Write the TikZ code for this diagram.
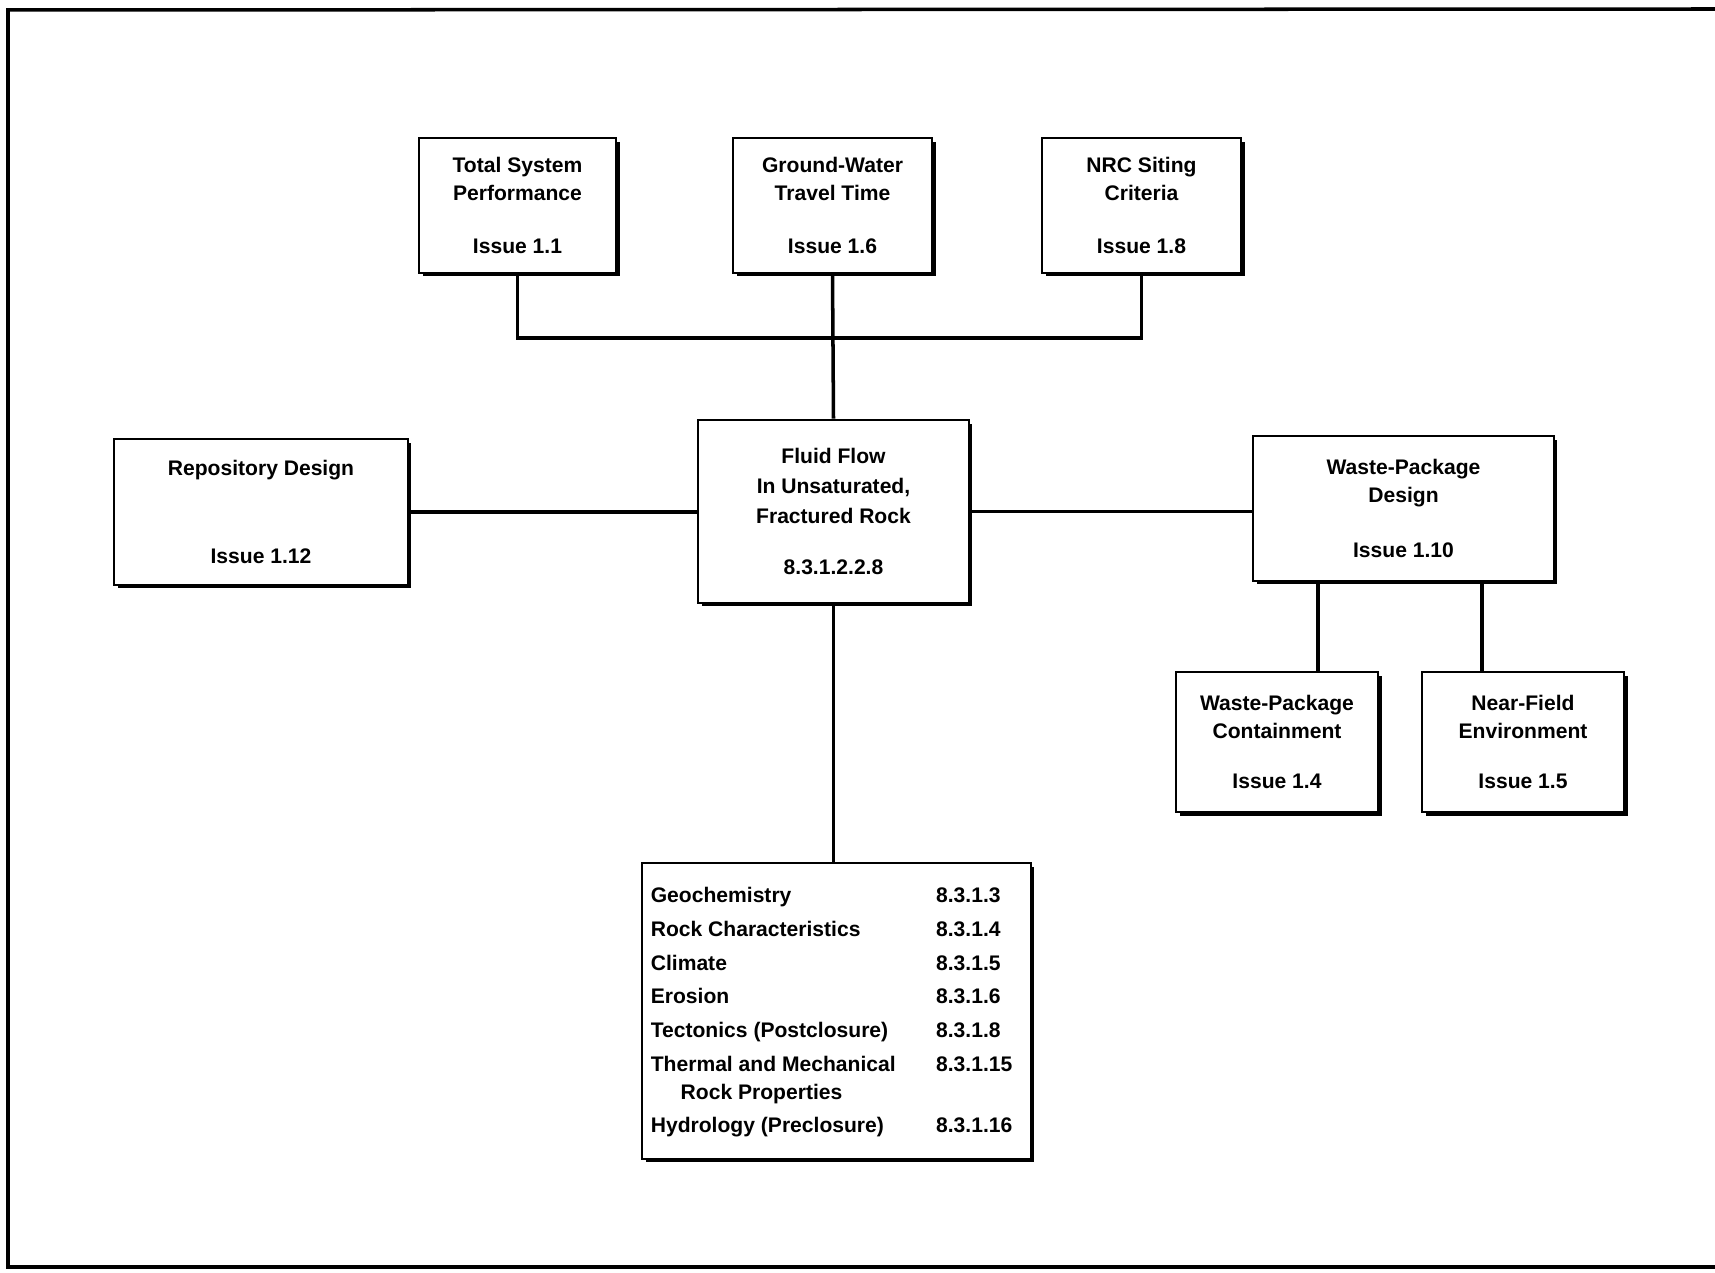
\documentclass[tikz,border=0pt]{standalone}
\usepackage{fontspec}
\setmainfont{Liberation Sans}
\usetikzlibrary{shadows,calc}

\begin{document}
\begin{tikzpicture}[x=0.02cm,y=-0.02cm,
  issuebox/.style={draw,line width=1.6pt,fill=white,align=center,inner sep=0pt,
    font=\fontsize{12}{16}\selectfont\bfseries,
    drop shadow={shadow xshift=2pt,shadow yshift=-2pt,fill=black,opacity=1}},
  link/.style={line width=2pt}]
\useasboundingbox (0,0) rectangle (1715,1273);
\draw[line width=2pt] (1715,9) -- (8,10) -- (8,1267) -- (1715,1267);

\node[issuebox,minimum width=3.94cm,minimum height=2.70cm] (tsp) at (517.5,205.5)
  {Total System\\Performance\\[14pt]Issue 1.1};
\node[issuebox,minimum width=3.98cm,minimum height=2.70cm] (gwt) at (832.5,205.5)
  {Ground-Water\\Travel Time\\[14pt]Issue 1.6};
\node[issuebox,minimum width=3.98cm,minimum height=2.70cm] (nrc) at (1141.5,205.5)
  {NRC Siting\\Criteria\\[14pt]Issue 1.8};
\node[issuebox,minimum width=5.42cm,minimum height=3.66cm] (fluid) at (833.5,511.5)
  {Fluid Flow\\[1pt]In Unsaturated,\\[1pt]Fractured Rock\\[13pt]8.3.1.2.2.8};
\node[issuebox,minimum width=5.88cm,minimum height=2.92cm] (repo) at (261,512)
  {Repository Design\\[34pt]Issue 1.12};
\node[issuebox,minimum width=6.02cm,minimum height=2.90cm] (wpd) at (1403.5,508.5)
  {Waste-Package\\Design\\[15pt]Issue 1.10};
\node[issuebox,minimum width=4.04cm,minimum height=2.80cm] (wpc) at (1277,742)
  {Waste-Package\\Containment\\[12pt]Issue 1.4};
\node[issuebox,minimum width=4.04cm,minimum height=2.80cm] (nfe) at (1523,742)
  {Near-Field\\Environment\\[12pt]Issue 1.5};
\node[issuebox,minimum width=7.78cm,minimum height=5.92cm,align=left] (list) at (836.5,1011)
  {\def\arraystretch{1.2}\begin{tabular}{@{}p{162.4pt}@{}l@{}}
  Geochemistry & 8.3.1.3\\
  Rock Characteristics & 8.3.1.4\\
  Climate & 8.3.1.5\\
  Erosion & 8.3.1.6\\
  Tectonics (Postclosure) & 8.3.1.8\\
  Thermal and Mechanical & 8.3.1.15\\[-3.5pt]
  \hspace*{17pt}Rock Properties & \\
  Hydrology (Preclosure) & 8.3.1.16
  \end{tabular}\hspace*{5.6pt}};

\coordinate (bus) at (832.5,338);
\coordinate (wpcjoin) at ($(wpc.north)+(41,0)$);
\coordinate (nfejoin) at ($(nfe.north)+(-41,0)$);

\draw[link] (tsp.south) |- (bus) -| (nrc.south);
\draw[link] (gwt.south) -- (fluid.north);
\draw[link] (repo.east) -- (repo.east -| fluid.west);
\draw[link] (fluid.east) -- (fluid.east -| wpd.west);
\draw[link] (fluid.south) -- (fluid.south |- list.north);
\draw[link] (wpcjoin) -- (wpcjoin |- wpd.south);
\draw[link] (nfejoin) -- (nfejoin |- wpd.south);
\end{tikzpicture}
\end{document}
